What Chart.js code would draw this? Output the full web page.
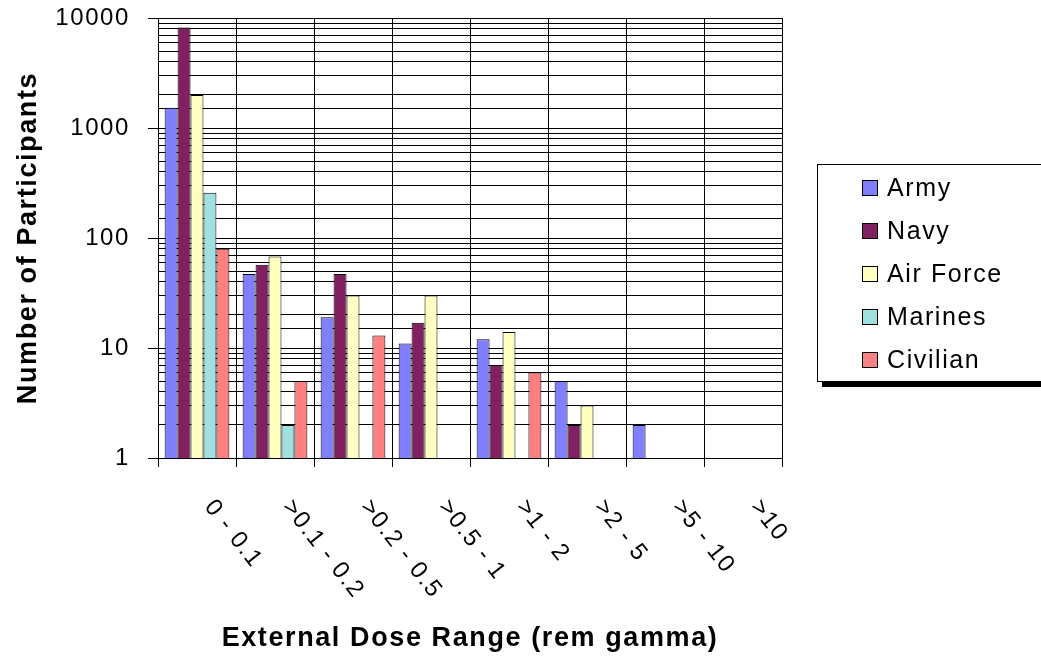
<!DOCTYPE html>
<html><head><meta charset="utf-8">
<script src="https://cdn.jsdelivr.net/npm/chart.js@4"></script>
<style>html,body{margin:0;padding:0;background:#fff}</style>
</head><body>
<canvas id="c" width="1041" height="656"></canvas>
<script>
const categories = ['0 - 0.1', '>0.1 - 0.2', '>0.2 - 0.5', '>0.5 - 1', '>1 - 2', '>2 - 5', '>5 - 10', '>10'];
const army     = [1530, 47, 19, 11, 12, 5, 2, null];
const navy     = [8200, 57, 47, 17, 7, 2, null, null];
const airForce = [2000, 68, 30, 30, 14, 3, null, null];
const marines  = [258, 2, null, null, null, null, null, null];
const civilian = [80, 5, 13, null, 6, null, null, null];
const seriesNames = ['Army', 'Navy', 'Air Force', 'Marines', 'Civilian'];
const seriesColors = ['#8080FF', '#802060', '#FFFFC0', '#A0E0E0', '#FF8080'];
const yTickLabels = [1, 10, 100, 1000, 10000];
const xTitle = 'External Dose Range (rem gamma)';
const yTitle = 'Number of Participants';

const FONT = '"Liberation Sans", Arial, sans-serif';
Chart.defaults.font.family = FONT;
Chart.defaults.color = '#000';

const isMajor = v => yTickLabels.includes(v);

const spacingPlugin = {
  id: 'spacing',
  beforeDraw(chart) { chart.ctx.letterSpacing = '1.6px'; }
};

const decorPlugin = {
  id: 'decor',
  afterDraw(chart) {
    const ctx = chart.ctx;
    const xs = chart.scales.x;
    // rotated category labels
    ctx.save();
    ctx.font = '24px ' + FONT;
    ctx.letterSpacing = '1.5px';
    ctx.fillStyle = '#000';
    ctx.textAlign = 'left';
    ctx.textBaseline = 'middle';
    chart.data.labels.forEach((lab, i) => {
      const x = xs.getPixelForValue(i);
      ctx.save();
      ctx.translate(x + 12, 503);
      ctx.rotate(52 * Math.PI / 180);
      ctx.fillText(lab, 0, 0);
      ctx.restore();
    });
    ctx.restore();

    // legend box
    const bx = 817, by = 164, bw = 240, bh = 217;
    ctx.save();
    ctx.fillStyle = '#000';
    ctx.fillRect(bx + 5, by + 5, bw, bh + 1);
    ctx.fillStyle = '#fff';
    ctx.fillRect(bx, by, bw, bh);
    ctx.strokeStyle = '#000';
    ctx.lineWidth = 1;
    ctx.strokeRect(bx + 0.5, by + 0.5, bw, bh);
    ctx.font = '25px ' + FONT;
    ctx.textAlign = 'left';
    ctx.textBaseline = 'middle';
    chart.data.datasets.forEach((ds, i) => {
      const cy = 188 + i * 43;
      ctx.fillStyle = ds.backgroundColor;
      ctx.fillRect(862, cy - 8, 16, 16);
      ctx.strokeStyle = '#000';
      ctx.strokeRect(862.5, cy - 7.5, 15, 15);
      ctx.fillStyle = '#000';
      ctx.fillText(ds.label, 887, cy + 1);
    });
    ctx.restore();
  }
};

const seriesData = [army, navy, airForce, marines, civilian];

new Chart(document.getElementById('c'), {
  type: 'bar',
  data: {
    labels: categories,
    datasets: seriesNames.map((name, i) => ({
      label: name,
      data: seriesData[i],
      backgroundColor: seriesColors[i],
      borderColor: '#000',
      borderWidth: 1,
      barPercentage: 1,
      categoryPercentage: 0.83
    }))
  },
  options: {
    responsive: false,
    animation: false,
    devicePixelRatio: 1,
    layout: { padding: { left: 0, top: 18, right: 259, bottom: 0 } },
    plugins: { legend: { display: false }, tooltip: { enabled: false } },
    scales: {
      x: {
        grid: { color: '#000', lineWidth: 1, offset: true, drawTicks: true, tickLength: 9, tickColor: '#000' },
        border: { color: '#000', width: 1 },
        ticks: { display: false },
        title: { display: true, text: xTitle, font: { size: 27, weight: 'bold', family: FONT }, color: '#000', padding: { top: 0, bottom: 1 } },
        afterFit(s) { s.height = 198; }
      },
      y: {
        type: 'logarithmic',
        min: 1,
        max: 10000,
        grid: {
          color: '#000', lineWidth: 1, drawTicks: true, tickLength: 10,
          tickColor: c => (c.tick && isMajor(c.tick.value)) ? '#000' : 'rgba(0,0,0,0)'
        },
        border: { color: '#000', width: 1 },
        ticks: {
          font: { size: 24, family: FONT },
          color: '#000',
          padding: 18,
          autoSkip: false,
          callback: v => isMajor(v) ? String(v) : ''
        },
        title: { display: true, text: yTitle, font: { size: 27, weight: 'bold', family: FONT }, color: '#000', padding: { top: 12, bottom: 0 } },
        afterFit(s) { s.width = 158; s.paddingTop = 0; s.paddingBottom = 0; }
      }
    }
  },
  plugins: [spacingPlugin, decorPlugin]
});
</script>
</body></html>
